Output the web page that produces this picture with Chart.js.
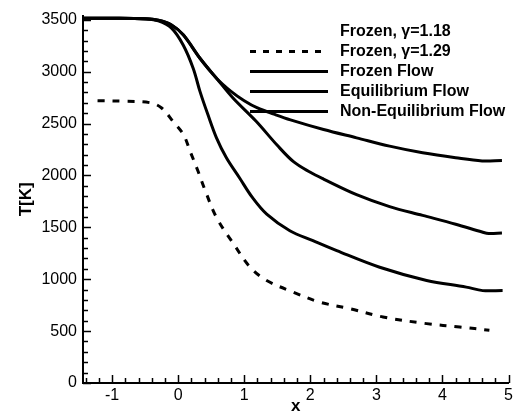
<!DOCTYPE html>
<html><head><meta charset="utf-8">
<script src="https://cdn.jsdelivr.net/npm/chart.js@4/dist/chart.umd.min.js"></script>
<style>html,body{margin:0;padding:0;background:#fff}#wrap{width:516px;height:417px}</style>
</head><body><div id="wrap"><canvas id="c" width="516" height="417"></canvas></div>
<script>
const legendLabels = ["Frozen, \u03b3=1.18", "Frozen, \u03b3=1.29", "Frozen Flow", "Equilibrium Flow", "Non-Equilibrium Flow"];
const xTickValues = [-1, 0, 1, 2, 3, 4, 5];
const yTickValues = [0, 500, 1000, 1500, 2000, 2500, 3000, 3500];

const eqX = [-1.44, -1.0, -0.5, -0.3, -0.1, 0.08, 0.33, 0.58, 0.8, 1.0, 1.2, 1.45, 1.7, 2.2, 2.7, 3.2, 3.7, 4.2, 4.6, 4.9];
const eqT = [3515, 3515, 3510, 3495, 3450, 3353, 3129, 2937, 2810, 2720, 2650, 2590, 2535, 2442, 2362, 2282, 2218, 2170, 2140, 2145];

const neqX = [-1.44, -1.0, -0.5, -0.3, -0.1, 0.08, 0.33, 0.58, 0.83, 1.18, 1.5, 1.75, 2.0, 2.2, 2.7, 3.2, 3.7, 4.2, 4.6, 4.7, 4.9];
const neqT = [3515, 3515, 3510, 3495, 3450, 3353, 3129, 2937, 2746, 2522, 2290, 2130, 2030, 1965, 1815, 1700, 1615, 1530, 1455, 1440, 1445];

const frzX = [-1.44, -1.0, -0.5, -0.3, -0.1, 0.076, 0.227, 0.33, 0.45, 0.58, 0.73, 0.93, 1.12, 1.34, 1.69, 2.04, 2.4, 3.05, 3.76, 4.36, 4.61, 4.91];
const frzT = [3515, 3515, 3508, 3490, 3420, 3257, 3033, 2810, 2586, 2362, 2170, 1975, 1790, 1627, 1467, 1371, 1275, 1115, 988, 924, 890, 892];

const dashX = [-1.22, -0.8, -0.42, -0.25, -0.08, 0.08, 0.18, 0.30, 0.40, 0.58, 0.84, 1.09, 1.34, 1.74, 2.14, 2.6, 3.1, 3.76, 4.26, 4.71];
const dashT = [2720, 2715, 2700, 2650, 2522, 2394, 2234, 2042, 1870, 1595, 1340, 1115, 988, 876, 780, 716, 636, 572, 540, 508];

function pts(xs, ys){ return xs.map((x,i)=>({x:x, y:ys[i]})); }

const ds = (label, xs, ys, dash) => ({
  label, data: pts(xs, ys), showLine: true, borderColor: '#000', backgroundColor: '#000',
  borderWidth: 3, pointRadius: 0, borderDash: dash || [], tension: 0.35, fill: false
});

const tickPlugin = {
  id: 'ticksAndLegend',
  afterDraw(chart){
    const ctx = chart.ctx, xs = chart.scales.x, ys = chart.scales.y;
    const ca = chart.chartArea;
    ctx.save();
    ctx.strokeStyle = '#000'; ctx.lineWidth = 1.5;
    for (let i = -7; i <= 25; i++) {
      const v = i * 0.2; if (v < xs.min - 1e-6 || v > xs.max + 1e-6) continue;
      const px = Math.round(xs.getPixelForValue(v)) + 0.5;
      const major = Math.abs(v - Math.round(v)) < 1e-6;
      ctx.beginPath(); ctx.moveTo(px, ca.bottom); ctx.lineTo(px, ca.bottom - (major ? 8 : 5)); ctx.stroke();
    }
    for (let v = 0; v <= 3500; v += 100) {
      const py = Math.round(ys.getPixelForValue(v)) + 0.5;
      const major = v % 500 === 0;
      ctx.beginPath(); ctx.moveTo(ca.left, py); ctx.lineTo(ca.left + (major ? 8 : 5), py); ctx.stroke();
    }
    const rowY = [31, 51, 71, 91, 111];
    const lineStyles = [null, [6, 7], [], [], []];
    ctx.font = 'bold 16px "Liberation Sans", Arial, sans-serif';
    ctx.fillStyle = '#000'; ctx.textBaseline = 'middle'; ctx.textAlign = 'left';
    legendLabels.forEach((t, i) => {
      if (lineStyles[i]) {
        ctx.setLineDash(lineStyles[i]); ctx.lineWidth = 3;
        ctx.beginPath(); ctx.moveTo(250, rowY[i] + 0.5); ctx.lineTo(328, rowY[i] + 0.5); ctx.stroke();
        ctx.setLineDash([]);
      }
      ctx.fillText(t, 340, rowY[i] + 1);
    });
    ctx.restore();
  }
};

new Chart(document.getElementById('c'), {
  type: 'scatter',
  data: { datasets: [
    ds(legendLabels[3], eqX, eqT),
    ds(legendLabels[4], neqX, neqT),
    ds(legendLabels[2], frzX, frzT),
    ds(legendLabels[1], dashX, dashT, [7, 8])
  ]},
  options: {
    responsive: false, animation: false, devicePixelRatio: 1,
    layout: { padding: { top: 14, right: 7, left: 0, bottom: 0 } },
    plugins: { legend: { display: false }, tooltip: { enabled: false } },
    scales: {
      x: {
        type: 'linear', min: -1.44, max: 5,
        afterBuildTicks: s => { s.ticks = xTickValues.map(v => ({value: v})); },
        afterFit: s => { s.height = 34; },
        grid: { display: false, drawTicks: false },
        border: { display: true, width: 2, color: '#000' },
        ticks: { color: '#000', padding: 3, maxRotation: 0, callback: v => String(v), font: { family: '"Liberation Sans", Arial, sans-serif', size: 16 } },
        title: { display: true, text: 'x', color: '#000', padding: 0, font: { family: '"Liberation Sans", Arial, sans-serif', size: 17, weight: 'bold' } }
      },
      y: {
        type: 'linear', min: 0, max: 3540,
        afterBuildTicks: s => { s.ticks = yTickValues.map(v => ({value: v})); },
        afterFit: s => { s.width = 83; },
        grid: { display: false, drawTicks: false },
        border: { display: true, width: 2, color: '#000' },
        ticks: { color: '#000', padding: 6, callback: v => String(v), font: { family: '"Liberation Sans", Arial, sans-serif', size: 16 } },
        title: { display: true, text: 'T[K]', color: '#000', padding: { top: 16 }, font: { family: '"Liberation Sans", Arial, sans-serif', size: 17, weight: 'bold' } }
      }
    }
  },
  plugins: [tickPlugin]
});
</script></body></html>
